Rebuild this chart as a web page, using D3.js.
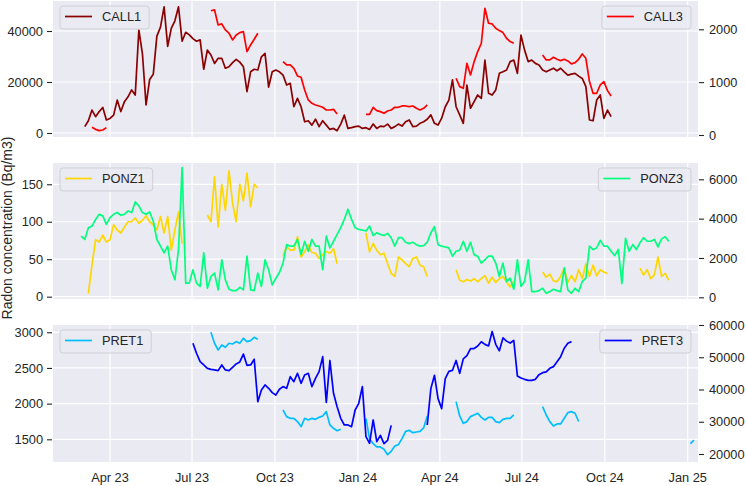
<!DOCTYPE html>
<html>
<head>
<meta charset="utf-8">
<script src="https://cdn.jsdelivr.net/npm/d3@7"></script>
<style>
  body { margin: 0; background: #fff; }
  text { font-family: "Liberation Sans", Arial, sans-serif; fill: #262626; }
</style>
</head>
<body>
<div id="chart"></div>
<script>
// every series is sampled on a 4-day grid, split in segments where the logger had gaps
const STEP_DAYS = 4;

const xTickFormat = "%b %y";
const yLabel = "Radon concentration (Bq/m3)";

const call1 = [
  ["2023-03-04", [2500, 4800, 9000, 6400, 8400, 10000, 5100,
    5700, 7000, 12900, 8400, 12300, 14200, 16900, 14900, 40400, 31000,
    11000, 21000, 23000, 38000, 41500, 49500, 34000, 41000, 44000, 49500,
    36000, 39500, 38500, 37000, 36000, 36500, 25000, 32500, 30600, 27300,
    29300, 29300, 25400, 26000, 27600, 28900, 27800, 26000, 16200, 24000,
    25000, 24700, 29900, 31200, 18000, 24000, 24700, 24000, 22700, 18800,
    19500, 10300, 13600, 10300, 4400, 4800, 3100, 5400, 2500, 4800,
    3100, 1400, 1800, 900, 3500, 7000, 1800, 2100, 2500, 2700,
    1800, 2100, 1400, 3500, 1800, 2700, 2500, 3500, 1800, 2500,
    3500, 2700, 4400, 5100, 2500, 2700, 3800, 4400, 5400, 7100,
    3800, 3100, 5800, 10300, 12900, 20800, 10300, 7100, 3800, 18800,
    9700, 12300, 14900, 13600, 28600, 15600, 14900, 16900, 23400, 24000,
    24700, 28000, 28600, 23400, 38400, 32500, 28000, 28600, 27300, 26700,
    24700, 24000, 24700, 25400, 24400, 25400, 24000, 22700, 23100, 23400,
    22300, 21400, 18200, 5100, 4800, 12900, 14900, 5700, 9000, 6400]]
];

const call3 = [
  ["2023-03-12", [145, 107, 82, 95, 139]],
  ["2023-07-22", [2350, 2366, 2082, 2101, 1988, 1925, 1798, 1893, 1937, 1956, 1578, 1704, 1811, 1925]],
  ["2023-10-10", [1388, 1325, 1325, 1262, 1117, 1092, 852, 663, 600, 568, 549, 524, 473, 473, 486, 398]],
  ["2024-01-10", [390, 391, 524, 461, 442, 410, 454, 473, 524, 524, 549, 549, 536, 549, 505, 473, 505, 568]],
  ["2024-04-19", [1073, 915, 883, 1357, 1136, 1388, 1578, 1735, 2398, 2114, 2101, 2019, 1975, 1937, 1830, 1767, 1735]],
  ["2024-07-24", [1514, 1420, 1420, 1470, 1432, 1407, 1432, 1401, 1344, 1369, 1432, 1533, 1451, 1010, 789, 789, 947, 1010, 839, 738]]
];

const ponz1 = [
  ["2023-03-08", [4, 42, 76, 73, 82, 73, 76, 96, 89, 85, 93, 100, 100, 105, 98, 102, 108, 100, 96, 89, 107, 85, 107, 62, 89, 113, 71]],
  ["2023-07-18", [109, 100, 160, 93, 150, 115, 168, 125, 100, 150, 128, 165, 120, 150, 145]],
  ["2023-10-10", [55, 67, 62, 62, 80, 53, 60, 69, 59, 58, 51, 56, 60, 58, 64, 44]],
  ["2024-01-10", [85, 60, 71, 62, 56, 58, 44, 31, 27, 53, 49, 44, 40, 51, 53, 42, 40, 27]],
  ["2024-04-19", [36, 22, 20, 23, 21, 24, 20, 24, 28, 18, 26, 19, 24, 27, 20, 13, 21]],
  ["2024-07-24", [33, 26, 30, 21, 20, 27, 38, 19, 28, 20, 36, 24, 44, 27, 42, 28, 36, 33, 31]],
  ["2024-11-09", [38, 29, 36, 24, 29, 53, 27, 31, 22]]
];

const ponz3 = [
  ["2023-02-28", [3110, 2940, 3540, 3620, 3960, 4220, 4140, 3710,
    4050, 4220, 4310, 4170, 4220, 4390, 4310, 4850, 4650, 4310,
    4220, 4340, 3880, 2940, 2600, 2260, 2600, 1400, 890, 2430,
    6600, 720, 720, 1400, 720, 550, 2260, 460, 1060, 1230,
    376, 1910, 890, 410, 340, 340, 510, 376, 2090, 376,
    340, 1230, 550, 1910, 1400, 630, 970, 1260, 1740, 2680,
    2600, 2600, 2940, 2170, 2850, 2340, 2940, 2600, 2600, 1400,
    3110, 2510, 2850, 3200, 3540, 3960, 4480, 3960, 3540, 3450,
    3420, 3370, 3620, 3140, 3280, 3200, 3140, 3250, 3030, 2600,
    3030, 3030, 2800, 2730, 2800, 2680, 2600, 2630, 2800, 3280,
    3590, 2680, 2600, 2560, 2510, 2090, 2340, 2390, 2850, 2340,
    2800, 2170, 2090, 1740, 1910, 2090, 2090, 1740, 1060, 1740,
    800, 970, 410, 1910, 550, 800, 1910, 290, 290, 340,
    460, 205, 290, 410, 340, 290, 1500, 376, 205, 460,
    290, 800, 970, 2600, 2430, 2510, 2900, 2600, 2600, 2340,
    2120, 2430, 700, 3000, 2340, 2680, 2430, 2770, 3030, 2850,
    2850, 2940, 2560, 2970, 3080, 2850]]
];

const pret1 = [
  ["2023-07-22", [3000, 2846, 2752, 2822, 2790, 2846, 2836, 2869, 2846, 2916, 2869, 2883, 2930, 2902]],
  ["2023-10-10", [1911, 1818, 1794, 1794, 1748, 1678, 1794, 1771, 1794, 1780, 1808, 1827, 1888, 1701, 1654, 1621, 1640]],
  ["2024-01-10", [1790, 1509, 1439, 1393, 1393, 1360, 1285, 1332, 1407, 1425, 1509, 1612, 1626, 1593, 1603, 1612, 1659, 1827]],
  ["2024-04-19", [2028, 1827, 1724, 1748, 1818, 1841, 1865, 1808, 1771, 1808, 1808, 1748, 1734, 1780, 1794, 1794, 1841]],
  ["2024-07-24", [1958, 1841, 1748, 1687, 1715, 1715, 1794, 1874, 1888, 1865, 1750]],
  ["2025-01-04", [1440, 1490]]
];

const pret3 = [
  ["2023-07-02", [54330, 51230, 48640, 47610, 46570, 46260, 46060, 45850, 47610, 46060,
    45850, 46880, 47920, 48540, 51000, 47500, 47610, 49370, 36200, 39850,
    41400, 40370, 39030, 38300, 40060, 40890, 40370, 43990, 42440, 45020,
    41920, 44510, 45020, 40890, 43470, 45540, 50190, 36000, 49000, 38820,
    34680, 31060, 29000, 29000, 28480, 33650, 35720, 40890, 25380, 23310,
    30550, 23830, 25790, 23200, 24240, 28890]],
  ["2024-03-18", [29000, 40270, 44400, 37160, 34060, 43370, 45640, 45950, 49000, 45000,
    49500, 50500, 52700, 52700, 53500, 54800, 54000, 53500, 58000, 54000,
    52000, 56000, 55000, 54400, 55200, 44200, 43580, 43160, 42850, 42850,
    43160, 44610, 45230, 45440, 46570, 47090, 48640, 50190, 52780, 54330, 54850]]
];

const leftTicks = [[0, 20000, 40000], [0, 50, 100, 150], [1500, 2000, 2500, 3000]];
const rightTicks = [[0, 1000, 2000], [0, 2000, 4000, 6000], [20000, 30000, 40000, 50000, 60000]];

const width = 746, height = 486;
const margin = { left: 53, right: 698 };

const panels = [
  { top: 1, bottom: 137,
    left: { name: "CALL1", color: "#8b0000", data: call1, domain: [-1569, 51765], ticks: leftTicks[0] },
    right: { name: "CALL3", color: "#ff0000", data: call3, domain: [-38, 2535], ticks: rightTicks[0] } },
  { top: 163, bottom: 299,
    left: { name: "PONZ1", color: "#ffd700", data: ponz1, domain: [-3.1, 178.4], ticks: leftTicks[1] },
    right: { name: "PONZ3", color: "#00ff7f", data: ponz3, domain: [-86, 6829], ticks: rightTicks[1] } },
  { top: 325, bottom: 462,
    left: { name: "PRET1", color: "#00bfff", data: pret1, domain: [1182, 3102], ticks: leftTicks[2] },
    right: { name: "PRET3", color: "#0000ff", data: pret3, domain: [17519, 60000], ticks: rightTicks[2] } }
];

const parse = d3.timeParse("%Y-%m-%d");
function toSegments(series) {
  return series.map(([start, vals]) => {
    const s = parse(start);
    return vals.map((v, i) => ({ date: d3.timeDay.offset(s, STEP_DAYS * i), value: v }));
  });
}

const svg = d3.select('#chart')
  .append('svg')
  .attr('width', width)
  .attr('height', height);

const x = d3.scaleTime()
  .domain([new Date(2023, 0, 27, 18), new Date(2025, 0, 12, 10)])
  .range([margin.left, margin.right]);

const xTicks = x.ticks(d3.timeMonth.every(3));

panels.forEach((p, pi) => {
  const g = svg.append('g');
  const clipId = 'clip' + pi;
  svg.append('clipPath').attr('id', clipId)
    .append('rect')
    .attr('x', margin.left).attr('y', p.top)
    .attr('width', margin.right - margin.left).attr('height', p.bottom - p.top);

  g.append('rect')
    .attr('x', margin.left).attr('y', p.top)
    .attr('width', margin.right - margin.left).attr('height', p.bottom - p.top)
    .attr('fill', '#eaeaf2');

  const yL = d3.scaleLinear().domain(p.left.domain).range([p.bottom, p.top]);
  const yR = d3.scaleLinear().domain(p.right.domain).range([p.bottom, p.top]);

  // grid (left axis ticks + dates)
  g.selectAll('.hgrid')
    .data(p.left.ticks)
    .enter().append('line')
    .attr('x1', margin.left).attr('x2', margin.right)
    .attr('y1', d => yL(d)).attr('y2', d => yL(d))
    .attr('stroke', '#fff').attr('stroke-width', 1.2);
  g.selectAll('.vgrid')
    .data(xTicks)
    .enter().append('line')
    .attr('x1', d => x(d)).attr('x2', d => x(d))
    .attr('y1', p.top).attr('y2', p.bottom)
    .attr('stroke', '#fff').attr('stroke-width', 1.2);

  // left axis
  const axL = d3.axisLeft(yL).tickValues(p.left.ticks).tickSize(5).tickPadding(4).tickFormat(d3.format('d'));
  const gl = g.append('g').attr('transform', `translate(${margin.left - 1},0)`).call(axL);
  const axR = d3.axisRight(yR).tickValues(p.right.ticks).tickSize(5).tickPadding(5).tickFormat(d3.format('d'));
  const gr = g.append('g').attr('transform', `translate(${margin.right + 1},0)`).call(axR);
  [gl, gr].forEach(a => {
    a.select('.domain').remove();
    a.selectAll('.tick line').attr('stroke', '#262626').attr('stroke-width', 1.1);
    a.selectAll('.tick text').attr('font-size', '12.8px').attr('fill', '#262626')
      .style('font-family', '"Liberation Sans", Arial, sans-serif');
  });

  const lineL = d3.line().x(d => x(d.date)).y(d => yL(d.value));
  const lineR = d3.line().x(d => x(d.date)).y(d => yR(d.value));

  const lines = g.append('g').attr('clip-path', `url(#${clipId})`);
  lines.selectAll('.segL')
    .data(toSegments(p.left.data))
    .enter().append('path')
    .attr('d', lineL)
    .attr('fill', 'none')
    .attr('stroke', p.left.color)
    .attr('stroke-width', 1.7)
    .attr('stroke-linejoin', 'round');

  // legend for the left series
  drawLegend(g, p.left, margin.left + 7, p.top + 5, 'left');

  lines.append('g').selectAll('.segR')
    .data(toSegments(p.right.data))
    .enter().append('path')
    .attr('d', lineR)
    .attr('fill', 'none')
    .attr('stroke', p.right.color)
    .attr('stroke-width', 1.7)
    .attr('stroke-linejoin', 'round');

  drawLegend(g, p.right, margin.right - 7, p.top + 5, 'right');
});

function drawLegend(g, s, xAnchor, y, side) {
  const lg = g.append('g');
  const rect = lg.append('rect');
  const txt = lg.append('text')
    .attr('font-size', '12.8px')
    .text(s.name);
  const tw = txt.node().getComputedTextLength();
  const w = 42 + tw + 8;
  const x0 = side === 'left' ? xAnchor : xAnchor - w;
  rect.attr('x', x0).attr('y', y).attr('width', w).attr('height', 23)
    .attr('rx', 3).attr('fill', '#eaeaf2').attr('fill-opacity', 0.8)
    .attr('stroke', '#cfcfd6').attr('stroke-width', 1);
  lg.append('line')
    .attr('x1', x0 + 5).attr('x2', x0 + 32)
    .attr('y1', y + 10.5).attr('y2', y + 10.5)
    .attr('stroke', s.color).attr('stroke-width', 1.7);
  txt.attr('x', x0 + 42).attr('y', y + 15);
}

// bottom date labels
svg.selectAll('.xlab')
  .data(xTicks)
  .enter().append('text')
  .attr('x', d => x(d))
  .attr('y', 482)
  .attr('text-anchor', 'middle')
  .attr('font-size', '12.8px')
  .text(d => d3.timeFormat(xTickFormat)(d));

svg.append('text')
  .attr('transform', 'translate(11.5,228) rotate(-90)')
  .attr('text-anchor', 'middle')
  .attr('font-size', '14px')
  .text(yLabel);
</script>
</body>
</html>
